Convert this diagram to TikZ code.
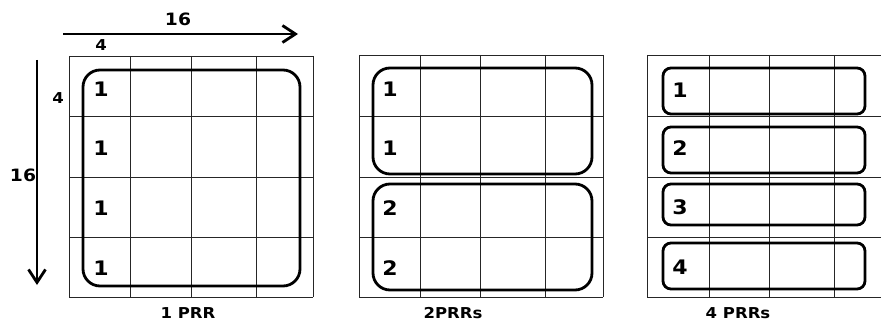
\documentclass[tikz,border=0pt]{standalone}
\usepackage{fontspec}
\setmainfont{DejaVu Sans}
\usetikzlibrary{arrows.meta}
\begin{document}
\begin{tikzpicture}[x=1pt,y=-1pt,
  gridline/.style={draw=black!85,line width=0.9pt},
  prr/.style={draw=black,line width=2.8pt,rounded corners=17pt},
  num/.style={font=\bfseries\fontsize{20}{20}\selectfont,xscale=1.1,inner sep=0pt},
  captext/.style={font=\bfseries\fontsize{15}{15}\selectfont,xscale=1.1,inner sep=0pt},
  dimtext/.style={font=\bfseries\fontsize{17}{17}\selectfont,xscale=1.1,inner sep=0pt},
  bigarrow/.style={line width=2.8pt,-{Straight Barb[length=13pt,width=17pt,line width=2.8pt]}}]
\useasboundingbox (0,0) rectangle (881,321);
% ---------- grid 1 ----------
\foreach \x in {69,130,191,256,313} \draw[gridline] (\x,56) -- (\x,297);
\foreach \y in {56,116,177,237,297} \draw[gridline] (69,\y) -- (313,\y);
\draw[prr] (83,70) rectangle (300,286);
\foreach \y/\n [count=\i] in {89/1,148/1,208/1,268/1} \node[num] (a\i) at (101,\y) {\n};
\node[captext] (c1) at (188,313) {1 PRR};
% ---------- grid 2 ----------
\foreach \x in {359,420,480,545,603} \draw[gridline] (\x,55) -- (\x,297);
\foreach \y in {55,116,177,237,297} \draw[gridline] (359,\y) -- (603,\y);
\draw[prr] (373,68) rectangle (592,174);
\draw[prr] (373,184) rectangle (592,290);
\foreach \y/\n [count=\i] in {89/1,148/1,208/2,268/2} \node[num] (b\i) at (390,\y) {\n};
\node[captext] (c2) at (453,313) {2PRRs};
% ---------- grid 3 ----------
\foreach \x in {647,709,769,834} \draw[gridline] (\x,55) -- (\x,297);
\foreach \y in {55,116,177,237,297} \draw[gridline] (647,\y) -- (881,\y);
\draw[prr,rounded corners=8pt] (663,68) rectangle (865,114);
\draw[prr,rounded corners=8pt] (663,127) rectangle (865,173);
\draw[prr,rounded corners=8pt] (663,184) rectangle (865,225);
\draw[prr,rounded corners=8pt] (663,243) rectangle (865,289);
\foreach \y/\n [count=\i] in {90/1,148/2,207/3,267/4} \node[num] (d\i) at (680,\y) {\n};
\node[captext] (c3) at (738,313) {4 PRRs};
% ---------- dimension arrows ----------
\coordinate (hs) at (63,34);
\coordinate (he) at (298,34);
\coordinate (vs) at (37,60);
\coordinate (ve) at (37,285);
\draw[bigarrow] (hs) -- (he);
\draw[bigarrow] (vs) -- (ve);
\node[dimtext] (h16) at (178,19) {16};
\node[dimtext,font=\bfseries\fontsize{15}{15}\selectfont] (h4) at (101,45) {4};
\node[dimtext,font=\bfseries\fontsize{15}{15}\selectfont] (v4) at (58,98) {4};
\node[dimtext] (v16) at (23,175) {16};
\end{tikzpicture}
\end{document}
